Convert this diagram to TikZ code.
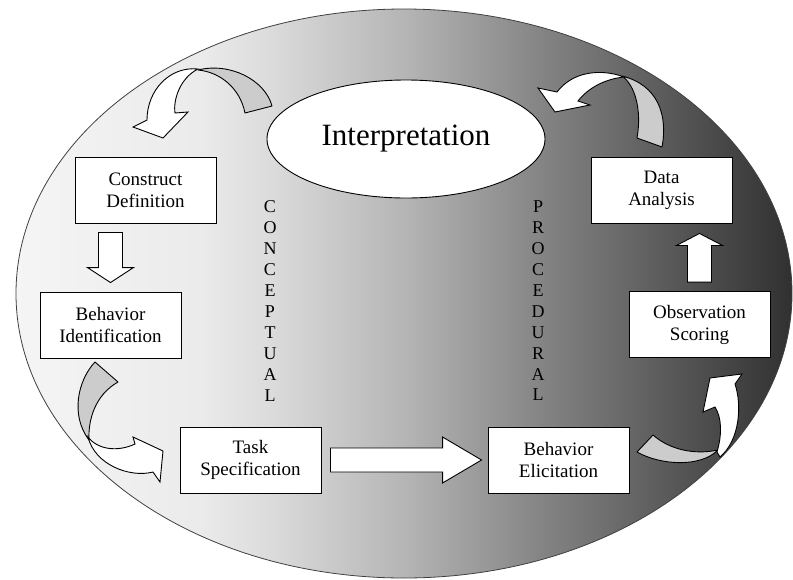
\documentclass[tikz,border=0pt]{standalone}
\usepackage{fontspec}
\setmainfont{Liberation Serif}
\usetikzlibrary{calc,shapes.geometric}

% light on the left, dark on the right
\pgfdeclarehorizontalshading{ovalgray}{100bp}{color(0bp)=(black!4); color(25bp)=(black!4);
  color(37bp)=(black!8); color(41.4bp)=(black!14); color(50bp)=(black!29);
  color(58.8bp)=(black!48); color(69bp)=(black!69); color(75bp)=(black!81); color(100bp)=(black!81)}

\tikzset{
  stepbox/.style={draw, fill=white, line width=0.9pt, minimum width=141pt, minimum height=66pt,
    align=center, inner sep=0pt, font=\fontsize{19}{22}\selectfont},
  ribback/.style={draw, fill=black!20, line width=0.9pt, line join=round},
  ribfront/.style={draw, fill=white, line width=0.9pt},
  blockarrow/.style={draw, fill=white, line width=0.9pt},
  spine/.style={align=center, inner sep=0pt, font=\fontsize{18}{20.9}\selectfont}
}

% block arrow: #1 head length, from #2 to #3
\newcommand{\blockarr}[3]{%
  \draw[blockarrow] let \p1=(#2), \p2=(#3), \n1={atan2(\y2-\y1,\x2-\x1)},
    \n2={veclen(\x2-\x1,\y2-\y1)} in [shift={(\p1)}, rotate=\n1]
    (0pt,-12pt) -- (\n2-#1,-12pt) -- (\n2-#1,-23pt) -- (\n2,0pt)
    -- (\n2-#1,23pt) -- (\n2-#1,12pt) -- (0pt,12pt) -- cycle;
}

\begin{document}
\begin{tikzpicture}[x=1pt,y=-1pt]
  \fill[white] (0,0) rectangle (793,579);
  \useasboundingbox (0,0) rectangle (793,579);

  % outer oval
  \shadedraw[shading=ovalgray, draw=black!75, line width=0.8pt]
    (404,293.5) ellipse [x radius=388pt, y radius=284.5pt];

  % centre
  \node[draw, fill=white, ellipse, line width=0.9pt, minimum width=278pt, minimum height=118pt,
    font=\fontsize{31}{36}\selectfont] (interp) at (406,139) {Interpretation};

  % steps
  \node[stepbox] (cdef)  at (145.5,190) {Construct\\Definition};
  \node[stepbox] (bident) at (110.5,325) {Behavior\\Identification};
  \node[stepbox] (tspec) at (250.5,460) {Task\\Specification};
  \node[stepbox] (belic) at (558.5,460) {Behavior\\Elicitation};
  \node[stepbox] (oscor) at (699.5,324.5) {Observation\\Scoring};
  \node[stepbox] (danal) at (661.5,190) {Data\\Analysis};

  % side words
  \node[spine] (conc) at (270,301) {C\\O\\N\\C\\E\\P\\T\\U\\A\\L};
  \node[spine] (proc) at (538,301) {P\\R\\O\\C\\E\\D\\U\\R\\A\\L};

  % straight arrows
  \blockarr{15pt}{$(bident.north |- cdef.south)+(0,9)$}{$(bident.north)+(0,-9)$}
  \blockarr{39pt}{$(tspec.east)+(9,0)$}{$(belic.west)+(-6,0)$}
  \blockarr{12pt}{$(oscor.north)+(0,-9)$}{$(oscor.north |- danal.south)+(0,10)$}

  % curved arrows
  % interpretation -> construct definition
  \draw[ribback] (272,106) .. controls (265,80) and (230,62) .. (198,70)
    .. controls (220,72) and (240,88) .. (245,113) -- cycle;
  \draw[ribfront] (198,69) .. controls (170,66) and (147,90) .. (147,120) -- (133,127)
    -- (163,138) -- (188,112) -- (175,113) .. controls (173,100) and (180,78) .. (198,69) -- cycle;
  % data analysis -> interpretation
  \draw[ribback] (662,147) .. controls (668,115) and (658,85) .. (622,76)
    .. controls (635,85) and (642,110) .. (637,138) -- cycle;
  \draw[ribfront] (624,77) .. controls (600,68) and (572,72) .. (557,92) -- (538,88)
    -- (555,112) -- (590,105) -- (578,101) .. controls (588,88) and (605,79) .. (624,77) -- cycle;
  % behavior identification -> task specification
  \draw[ribback] (95,362) .. controls (78,380) and (70,415) .. (89,440)
    .. controls (88,420) and (95,395) .. (118,382) -- cycle;
  \draw[ribfront] (88,437) .. controls (95,465) and (130,478) .. (153,472) -- (160,482)
    -- (163,451) -- (133,437) -- (135,444) .. controls (118,452) and (98,450) .. (88,437) -- cycle;
  % behavior elicitation -> observation scoring
  \draw[ribback] (637,452) .. controls (660,465) and (700,468) .. (718,450)
    .. controls (695,455) and (670,450) .. (653,435) -- cycle;
  \draw[ribfront] (717,452) .. controls (722,435) and (722,418) .. (715,407) -- (703,412)
    -- (710,378) -- (742,374) -- (735,384) .. controls (742,405) and (740,440) .. (720,457) -- cycle;
\end{tikzpicture}
\end{document}
